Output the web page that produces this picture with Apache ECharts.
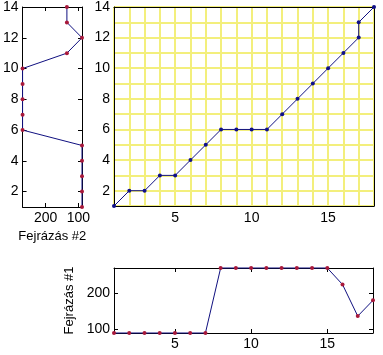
<!DOCTYPE html>
<html>
<head>
<meta charset="utf-8">
<script src="https://cdn.jsdelivr.net/npm/echarts@6/dist/echarts.min.js"></script>
<style>
  html, body { margin: 0; padding: 0; background: #fff; }
  #chart { width: 383px; height: 355px; }
</style>
</head>
<body>
<div id="chart"></div>
<script>
// Fejrázás #1 (x = 1..18) and Fejrázás #2 (y = 1..14)
const seqA = [89, 89, 89, 89, 89, 89, 89, 270, 270, 270, 270, 270, 270, 270, 270, 224, 136, 180];
const seqB = [89, 89, 89, 89, 89, 270, 270, 270, 270, 270, 135, 89, 135, 135];
// warping path
const pathX = [1, 2, 3, 4, 5, 6, 7, 8, 9, 10, 11, 12, 13, 14, 15, 16, 17, 17, 18];
const pathY = [1, 2, 2, 3, 3, 4, 5, 6, 6, 6, 6, 7, 8, 9, 10, 11, 12, 13, 14];
const valTicks = [100, 200];
const rowTicks = [2, 4, 6, 8, 10, 12, 14];
const colTicks = [5, 10, 15];

const font = 'Liberation Sans, Arial, sans-serif';
const lineCol = '#101080';
const dotCol = '#a8183a';
const gridCol = '#f3ef7c';

const chart = echarts.init(document.getElementById('chart'), null, { renderer: 'canvas' });

const black = { show: true, lineStyle: { color: '#000', width: 1 } };
const lbl = (extra) => Object.assign({ fontFamily: font, fontSize: 14, color: '#000' }, extra);

function boxAxis(gridIndex, position, min, max, ticks, withLabels, extra) {
  return Object.assign({
    type: 'value', gridIndex: gridIndex, position: position, min: min, max: max,
    axisLine: black, splitLine: { show: false },
    axisTick: { show: ticks.length > 0, inside: true, length: 4, customValues: ticks, lineStyle: { color: '#000' } },
    axisLabel: withLabels ? lbl({ customValues: ticks, margin: 4 }) : { show: false }
  }, extra || {});
}

const option = {
  animation: false,
  backgroundColor: '#fff',
  grid: [
    { left: 17, right: 301, top: 7, bottom: 148 },
    { left: 114, right: 9, top: 7, bottom: 149 },
    { left: 114, right: 10, top: 268, bottom: 22 }
  ],
  xAxis: [
    boxAxis(0, 'bottom', 89, 270, valTicks, true, {
      inverse: true, name: 'Fejrázás #2', nameLocation: 'middle', nameGap: 21,
      nameTextStyle: lbl({ fontSize: 13 })
    }),
    boxAxis(0, 'top', 89, 270, valTicks, false, { inverse: true }),
    {
      type: 'value', gridIndex: 1, position: 'bottom', min: 1, max: 18, interval: 1,
      axisLine: black, axisTick: { show: false },
      axisLabel: lbl({ margin: 5, formatter: v => (v % 5 === 0 ? v : '') }),
      splitLine: { show: true, lineStyle: { color: gridCol, width: 2 } }
    },
    boxAxis(1, 'top', 1, 18, [], false),
    boxAxis(2, 'bottom', 1, 18, colTicks, true),
    boxAxis(2, 'top', 1, 18, colTicks, false)
  ],
  yAxis: [
    boxAxis(0, 'left', 1, 14, rowTicks, true),
    boxAxis(0, 'right', 1, 14, rowTicks, false),
    {
      type: 'value', gridIndex: 1, position: 'left', min: 1, max: 14, interval: 1,
      axisLine: black, axisTick: { show: false },
      axisLabel: lbl({ margin: 4, formatter: v => (v % 2 === 0 ? v : '') }),
      splitLine: { show: true, lineStyle: { color: gridCol, width: 2 } }
    },
    boxAxis(1, 'right', 1, 14, [], false),
    boxAxis(2, 'left', 89, 270, valTicks, true, {
      name: 'Fejrázás #1', nameLocation: 'middle', nameGap: 31, nameRotate: 90,
      nameTextStyle: lbl({ fontSize: 13 })
    }),
    boxAxis(2, 'right', 89, 270, valTicks, false)
  ],
  series: [
    {
      type: 'line', xAxisIndex: 0, yAxisIndex: 0, clip: false,
      data: seqB.map((v, i) => [v, i + 1]),
      lineStyle: { color: lineCol, width: 1 },
      symbol: 'circle', symbolSize: 4, itemStyle: { color: dotCol }
    },
    {
      type: 'line', xAxisIndex: 2, yAxisIndex: 2, clip: false,
      data: pathX.map((x, i) => [x, pathY[i]]),
      lineStyle: { color: lineCol, width: 1 },
      symbol: 'circle', symbolSize: 4, itemStyle: { color: '#10108a' }
    },
    {
      type: 'line', xAxisIndex: 4, yAxisIndex: 4, clip: false,
      data: seqA.map((v, i) => [i + 1, v]),
      lineStyle: { color: lineCol, width: 1 },
      symbol: 'circle', symbolSize: 4, itemStyle: { color: dotCol }
    }
  ]
};

chart.setOption(option);
</script>
</body>
</html>
